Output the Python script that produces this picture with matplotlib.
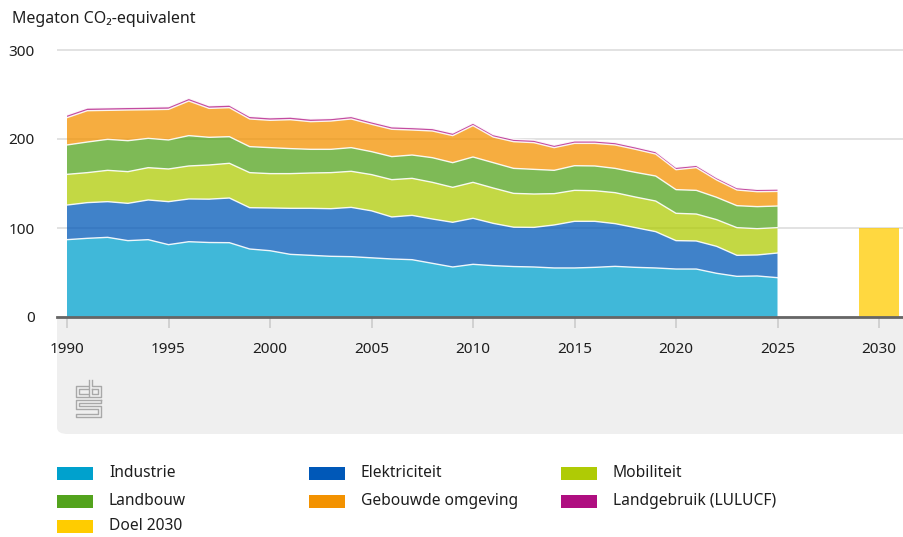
"""
Stacked greenhouse gas emissions per sector (NL), with the 2030 target bar.
"""

# IMPORTs
import numpy as np
import matplotlib
matplotlib.use('Agg')
import matplotlib.pyplot as plt
from matplotlib.patches import Rectangle, FancyBboxPatch
from matplotlib.lines import Line2D

# FONT
plt.rcParams['font.family'] = ['Noto Sans', 'DejaVu Sans']

# DATA (Megaton CO2-equivalent)
years = list(range(1990, 2026))
industrie = [86.9, 88.4, 89.5, 85.8, 86.9, 81.3, 84.6, 83.7, 83.5, 76.4,
             74.5, 70.4, 69.3, 68.2, 67.8, 66.5, 65.2, 64.4, 60.3, 56.2,
             59.2, 57.7, 56.7, 56.2, 55.1, 55.1, 55.8, 56.9, 55.8, 55.1,
             53.9, 53.9, 49.1, 45.7, 46.1, 44.2]
elektriciteit = [38.9, 40.1, 40.1, 41.9, 44.6, 48.3, 48.0, 48.7, 50.2, 46.4,
                 48.0, 51.7, 52.8, 53.5, 55.4, 52.8, 47.2, 49.8, 49.8, 50.2,
                 51.7, 47.5, 44.2, 44.5, 48.3, 52.4, 51.7, 48.0, 44.6, 40.8,
                 31.9, 31.5, 30.3, 23.6, 23.6, 27.7]
mobiliteit = [34.5, 33.7, 35.2, 35.6, 36.3, 36.7, 37.1, 38.4, 39.0, 39.4,
              38.6, 39.0, 39.7, 40.5, 40.5, 40.7, 41.9, 41.6, 41.2, 39.3,
              40.4, 39.7, 38.0, 37.5, 35.2, 34.8, 34.4, 34.8, 34.4, 34.4,
              30.7, 30.3, 30.0, 31.1, 29.6, 28.5]
landbouw = [33.0, 34.4, 34.8, 34.8, 32.9, 32.6, 34.1, 31.1, 29.9, 29.2,
            29.2, 28.1, 26.6, 26.2, 26.6, 25.8, 25.9, 26.2, 27.7, 27.7,
            28.5, 28.5, 28.1, 27.7, 26.2, 27.7, 27.8, 27.3, 27.7, 28.1,
            26.6, 26.6, 25.1, 24.7, 24.7, 24.3]
gebouwde_omgeving = [30.7, 35.2, 32.6, 34.5, 32.2, 34.4, 38.9, 32.5, 32.6, 31.1,
                     30.7, 32.5, 31.1, 31.8, 32.2, 30.7, 30.7, 28.1, 30.0, 30.4,
                     35.2, 28.8, 30.0, 30.0, 25.5, 25.1, 25.4, 26.3, 25.9, 24.7,
                     22.4, 25.5, 19.5, 17.6, 16.8, 16.4]
lulucf = [3.0, 3.0, 3.0, 3.0, 3.0, 3.0, 3.0, 3.0, 3.0, 3.0,
          3.0, 3.0, 3.0, 2.9, 2.9, 2.9, 2.9, 2.9, 2.9, 2.9,
          2.9, 2.8, 2.8, 2.8, 2.8, 2.8, 2.8, 2.8, 2.8, 2.8,
          2.8, 2.7, 2.7, 2.7, 2.7, 2.7]
doel_year = [2030]
doel_value = [100]

labels = ['Industrie', 'Elektriciteit', 'Mobiliteit', 'Landbouw',
          'Gebouwde omgeving', 'Landgebruik (LULUCF)', 'Doel 2030']
colours = ['#00a1cd', '#0058b8', '#afcb05', '#53a31d', '#f39200', '#af0e80', '#ffcc00']
x_ticks = [1990, 1995, 2000, 2005, 2010, 2015, 2020, 2025, 2030]
y_ticks = [0, 100, 200, 300]

# FIGURE (pixel helpers)
W, H = 904, 537
fig = plt.figure(figsize=(W / 100, H / 100), dpi=100)


def fx(px): return px / W
def fy(py): return 1 - py / H


# GREY panel below the axis
panel = FancyBboxPatch(
    (fx(57), fy(434)), fx(960) - fx(57), fy(300) - fy(434),
    boxstyle='round,pad=0,rounding_size=0.012',
    transform=fig.transFigure, facecolor='#efefef', edgecolor='none', zorder=-5,
)
fig.add_artist(panel)

# AXES
ax = fig.add_axes([fx(57), fy(317), fx(904) - fx(57), fy(40) - fy(317)])
ax.set_facecolor('white')
ax.set_xlim(1990 - 10 / 20.3, 2030 + 25 / 20.3)
ax.set_ylim(0, 300 * 277 / 267)

series = [industrie, elektriciteit, mobiliteit, landbouw, gebouwde_omgeving, lulucf]
ax.stackplot(years, *series, colors=colours[:6], alpha=0.75, linewidth=0, zorder=2)
tops = np.cumsum(np.array(series), axis=0)
for top in tops:
    ax.plot(years, top, color='white', linewidth=1.0, alpha=0.9, zorder=3)

ax.bar(doel_year, doel_value, width=1.97, color=colours[6], alpha=0.75, zorder=2)

# GRID / SPINEs
ax.set_yticks(y_ticks)
ax.yaxis.grid(True, color='#dddddd', linewidth=1.2, zorder=0)
ax.set_axisbelow(True)
for side in ['top', 'right', 'left']:
    ax.spines[side].set_visible(False)
ax.spines['bottom'].set_color('#666666')
ax.spines['bottom'].set_linewidth(2.0)
ax.spines['bottom'].set_zorder(4)

ax.set_xticks(x_ticks)
ax.tick_params(axis='x', length=8, width=1.2, color='#cccccc', pad=10,
               labelsize=11, labelcolor='#1e1e1e')
ax.tick_params(axis='y', length=0, pad=16, labelsize=11, labelcolor='#1e1e1e')

# TITLE
fig.text(fx(12), fy(19), 'Megaton CO₂-equivalent', fontsize=11.5,
         color='#1e1e1e', va='center', ha='left')

# CBS LOGO (rough line drawing)
logo_col = '#a8a8a8'
logo_paths = [
    [(88, 386), (76, 386), (76, 397), (88, 397)],
    [(88, 389), (79, 389), (79, 394), (88, 394)],
    [(89, 380), (89, 397), (101, 397), (101, 386), (92, 386), (92, 380)],
    [(92, 389), (98, 389), (98, 394), (92, 394), (92, 389)],
    [(101, 400), (76, 400), (76, 409), (98, 409), (98, 414), (76, 414), (76, 417), (101, 417),
     (101, 406), (79, 406), (79, 403), (101, 403), (101, 400)],
]
for path in logo_paths:
    xs = [fx(p[0]) for p in path]
    ys = [fy(p[1]) for p in path]
    fig.add_artist(Line2D(xs, ys, color=logo_col, linewidth=1.0, transform=fig.transFigure))

# LEGEND (three columns, drawn by hand)
col_x = [57, 309, 561]
row_y = [473, 501, 526]
for i, (lab, col) in enumerate(zip(labels, colours)):
    cx = col_x[i % 3]
    cy = row_y[i // 3]
    fig.add_artist(Rectangle((fx(cx), fy(cy + 7)), fx(36), 13.5 / H,
                             transform=fig.transFigure, facecolor=col, edgecolor='none'))
    fig.text(fx(cx + 52), fy(cy), lab, fontsize=11.2, color='#1e1e1e',
             va='center', ha='left')

fig.savefig('out.png', dpi=100)
